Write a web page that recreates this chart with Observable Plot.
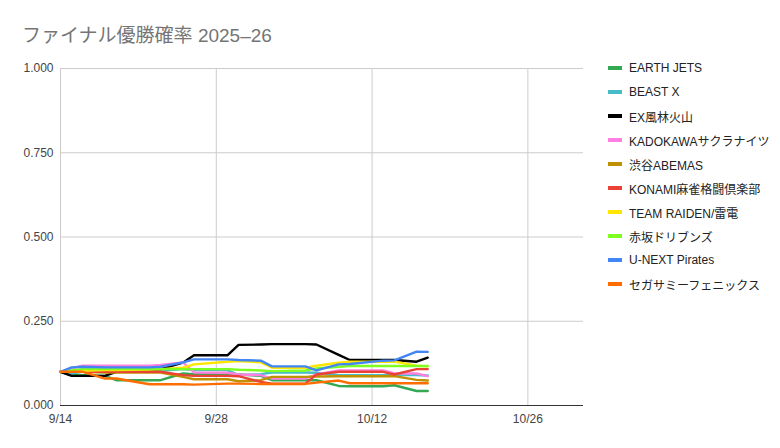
<!DOCTYPE html>
<html>
<head>
<meta charset="utf-8">
<script src="https://cdn.jsdelivr.net/npm/d3@7"></script>
<script src="https://cdn.jsdelivr.net/npm/@observablehq/plot@0.6"></script>
<style>
  html, body { margin: 0; padding: 0; background: #fff; }
  #wrap { position: relative; width: 780px; height: 448px; font-family: "Liberation Sans", Arial, "Noto Sans CJK JP", sans-serif; }
  #title { position: absolute; left: 22px; top: 20px; font-size: 19px; color: #757575; white-space: nowrap; }
  #legend { position: absolute; left: 608px; top: 56px; }
  .item { height: 24px; display: flex; align-items: center; font-size: 12px; color: #222; white-space: nowrap; }
  .sw { width: 14px; height: 4px; margin-right: 7px; }
  #chart { position: absolute; left: 0; top: 0; }
</style>
</head>
<body>
<div id="wrap">
  <div id="chart"></div>
  <div id="title">ファイナル優勝確率 2025–26</div>
  <div id="legend"></div>
</div>
<script>
const dates = ["2025-09-14","2025-09-15","2025-09-16","2025-09-18","2025-09-19","2025-09-22","2025-09-23",
  "2025-09-25","2025-09-26","2025-09-29","2025-09-30","2025-10-02","2025-10-03","2025-10-06","2025-10-07",
  "2025-10-09","2025-10-10","2025-10-13","2025-10-14","2025-10-16","2025-10-17"];

const seriesNames = ["EARTH JETS","BEAST X","EX風林火山","KADOKAWAサクラナイツ","渋谷ABEMAS",
  "KONAMI麻雀格闘倶楽部","TEAM RAIDEN/雷電","赤坂ドリブンズ","U-NEXT Pirates","セガサミーフェニックス"];
const seriesColors = ["#34a853","#46bdc6","#000000","#ff80e0","#bf9000","#ea4335","#ffe600","#7fff1f","#4285f4","#ff6d01"];

const earthJets  = [0.100,0.090,0.090,0.088,0.075,0.075,0.075,0.095,0.093,0.093,0.092,0.088,0.075,0.075,0.075,0.058,0.057,0.057,0.060,0.043,0.043];
const beastX     = [0.100,0.095,0.100,0.100,0.100,0.100,0.103,0.108,0.105,0.105,0.090,0.093,0.098,0.098,0.097,0.090,0.090,0.090,0.090,0.090,0.089];
const exFurin    = [0.100,0.088,0.088,0.088,0.100,0.102,0.108,0.127,0.149,0.149,0.180,0.181,0.182,0.182,0.181,0.150,0.135,0.135,0.135,0.130,0.142];
const kadokawa   = [0.100,0.110,0.118,0.118,0.118,0.118,0.120,0.128,0.098,0.097,0.092,0.090,0.080,0.080,0.092,0.104,0.104,0.104,0.095,0.095,0.087];
const abemas     = [0.100,0.100,0.100,0.098,0.098,0.098,0.098,0.085,0.078,0.078,0.072,0.075,0.085,0.085,0.086,0.087,0.087,0.087,0.087,0.076,0.074];
const konami     = [0.100,0.100,0.100,0.100,0.100,0.100,0.100,0.090,0.088,0.088,0.087,0.070,0.065,0.065,0.092,0.100,0.100,0.100,0.092,0.108,0.108];
const raiden     = [0.100,0.100,0.103,0.105,0.105,0.107,0.108,0.112,0.122,0.130,0.132,0.128,0.112,0.112,0.118,0.127,0.130,0.130,0.130,0.118,0.116];
const drivens    = [0.100,0.105,0.108,0.108,0.108,0.108,0.108,0.108,0.108,0.108,0.106,0.104,0.102,0.104,0.110,0.115,0.117,0.117,0.117,0.117,0.117];
const pirates    = [0.100,0.113,0.115,0.113,0.113,0.113,0.115,0.128,0.137,0.137,0.135,0.133,0.116,0.116,0.104,0.122,0.123,0.133,0.134,0.160,0.159];
const phoenix    = [0.100,0.100,0.100,0.080,0.080,0.063,0.063,0.063,0.062,0.065,0.065,0.064,0.064,0.064,0.068,0.074,0.066,0.066,0.066,0.066,0.066];

const xTicks = ["2025-09-14","2025-09-28","2025-10-12","2025-10-26"];
const yTicks = [0, 0.25, 0.5, 0.75, 1];
const xDomain = ["2025-09-14","2025-10-31"];

const allValues = [earthJets, beastX, exFurin, kadokawa, abemas, konami, raiden, drivens, pirates, phoenix];
const parse = s => new Date(s + "T00:00:00Z");
const rows = [];
seriesNames.forEach((name, i) => {
  allValues[i].forEach((v, j) => rows.push({series: name, date: parse(dates[j]), value: v}));
});

const fmtDate = d => `${d.getUTCMonth() + 1}/${d.getUTCDate()}`;

const chart = Plot.plot({
  width: 780,
  height: 448,
  marginTop: 68,
  marginBottom: 43,
  marginLeft: 60,
  marginRight: 197,
  style: { fontFamily: '"Liberation Sans", Arial, sans-serif', fontSize: "12px", color: "#444", background: "transparent" },
  x: { type: "utc", domain: xDomain.map(parse) },
  y: { domain: [0, 1] },
  color: { domain: seriesNames, range: seriesColors },
  marks: [
    Plot.gridY(yTicks, { stroke: "#cccccc", strokeOpacity: 1 }),
    Plot.gridX(xTicks.map(parse), { stroke: "#cccccc", strokeOpacity: 1 }),
    Plot.axisY(yTicks, { tickSize: 0, tickPadding: 7, tickFormat: d3.format(".3f"), label: null, fill: "#444" }),
    Plot.axisX(xTicks.map(parse), { tickSize: 0, tickPadding: 9, tickFormat: fmtDate, label: null, fill: "#444" }),
    Plot.ruleY([0], { stroke: "#333" }),
    Plot.line(rows, { x: "date", y: "value", z: "series", stroke: "series", strokeWidth: 2.4, strokeLinejoin: "round" })
  ]
});
document.getElementById("chart").appendChild(chart);

const legend = document.getElementById("legend");
seriesNames.forEach((name, i) => {
  const item = document.createElement("div");
  item.className = "item";
  const sw = document.createElement("span");
  sw.className = "sw";
  sw.style.background = seriesColors[i];
  const t = document.createElement("span");
  t.textContent = name;
  item.appendChild(sw);
  item.appendChild(t);
  legend.appendChild(item);
});
</script>
</body>
</html>
